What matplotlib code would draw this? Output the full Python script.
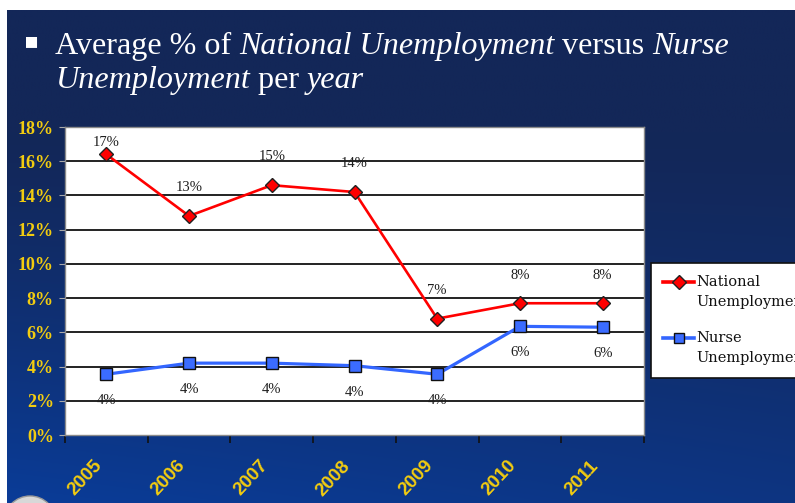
import numpy as np
import matplotlib
matplotlib.use("Agg")
import matplotlib.pyplot as plt
from matplotlib.lines import Line2D
from matplotlib.legend_handler import HandlerLine2D
from matplotlib.patches import Circle
import matplotlib.transforms as mtransforms

# ---------------- data ----------------
years = ["2005", "2006", "2007", "2008", "2009", "2010", "2011"]
national = [16.4, 12.8, 14.6, 14.2, 6.8, 7.7, 7.7]
nurse = [3.55, 4.2, 4.2, 4.05, 3.55, 6.35, 6.3]
national_labels = ["17%", "13%", "15%", "14%", "7%", "8%", "8%"]
nurse_labels = ["4%", "4%", "4%", "4%", "4%", "6%", "6%"]
yticks = [0, 2, 4, 6, 8, 10, 12, 14, 16, 18]
ytick_labels = [f"{v}%" for v in yticks]
series_names = ["National\nUnemployment", "Nurse\nUnemployment"]

W, H = 795, 503
fig = plt.figure(figsize=(W / 100, H / 100), dpi=100, facecolor="white")

# ---------------- background ----------------
bg = fig.add_axes([0, 0, 1, 1])
bg.set_xlim(0, W)
bg.set_ylim(H, 0)
bg.axis("off")
ny, nx = 200, 300
yy, xx = np.mgrid[0:1:ny * 1j, 0:1:nx * 1j]
top = np.array([19, 39, 88]) / 255
bot = np.array([10, 60, 152]) / 255
f = np.clip((yy - 0.25) / 0.75, 0, 1) ** 1.2
f = f * (1 - 0.35 * xx)
img = top[None, None, :] * (1 - f[..., None]) + bot[None, None, :] * f[..., None]
bg.imshow(img, extent=(7, W, H, 10), aspect="auto", zorder=0, interpolation="bilinear")
bg.add_patch(Circle((30, 522), 26, facecolor="#d8d8d8", edgecolor="#999999", lw=1, zorder=1))

# ---------------- title ----------------
fig.text(24 / W, 1 - 41 / H, "\u25aa", color="white", fontsize=16,
         family="DejaVu Sans", va="center", ha="left")
lines = [
    [("Average % of ", "normal"), ("National Unemployment", "italic"),
     (" versus ", "normal"), ("Nurse", "italic")],
    [("Unemployment", "italic"), (" per ", "normal"), ("year", "italic")],
]
renderer = fig.canvas.get_renderer()


def measure(size):
    t = 0
    for s, st in lines[0]:
        tx = fig.text(0, 0, s, fontsize=size, family="Liberation Serif", style=st)
        t += tx.get_window_extent(renderer).width
        tx.remove()
    return t


size = 24
size = size * 675 / measure(size)
baselines = [54, 88]
for line, base in zip(lines, baselines):
    x = 55
    for s, st in line:
        tx = fig.text(x / W, 1 - base / H, s, fontsize=size, family="Liberation Serif",
                      style=st, color="white", va="baseline", ha="left")
        x += tx.get_window_extent(renderer).width

# ---------------- chart ----------------
L, R, T, B = 65, 644, 127, 435
ax = fig.add_axes([L / W, 1 - B / H, (R - L) / W, (B - T) / H])
ax.set_facecolor("white")
xs = np.arange(len(years))
ax.set_xlim(-0.5, len(years) - 0.5)
ax.set_ylim(0, 18)

for v in yticks[1:-1]:
    ax.axhline(v, color="#111111", lw=1.3, zorder=1)

ax.plot(xs, national, color="#ff0000", lw=1.9, marker="D", markersize=7.5,
        markerfacecolor="#ff0000", markeredgecolor="#202020", markeredgewidth=1.0, zorder=3)
ax.plot(xs, nurse, color="#3366ff", lw=2.3, marker="s", markersize=8.5,
        markerfacecolor="#3b6cff", markeredgecolor="#101010", markeredgewidth=1.0, zorder=3)

lab_kw = dict(family="Liberation Serif", fontsize=10.5, color="#1e1e1e",
              ha="center", va="center", zorder=4)
for x, v, s in zip(xs, national, national_labels):
    ax.text(x, min(v + 1.65, 17.1), s, **lab_kw)
for x, v, s in zip(xs, nurse, nurse_labels):
    ax.text(x, v - 1.55, s, **lab_kw)

for sp in ax.spines.values():
    sp.set_color("#8a8a8a")
    sp.set_linewidth(1.0)

ax.set_yticks(yticks)
ax.set_yticklabels(ytick_labels)
ax.tick_params(axis="y", length=4, color="#aaaaaa", pad=4)
for t in ax.get_yticklabels():
    t.set_family("Liberation Serif")
    t.set_fontweight("bold")
    t.set_fontsize(13)
    t.set_color("#f2cc10")

ax.set_xticks(np.arange(-0.5, len(years)), minor=False)
ax.set_xticklabels([])
ax.tick_params(axis="x", which="major", length=6, width=1.2, color="#111111")
ax.set_xticks(xs, minor=True)
ax.set_xticklabels(years, minor=True)
ax.tick_params(axis="x", which="minor", length=0, pad=16)
shift = mtransforms.ScaledTranslation(-13 / 100, 0, fig.dpi_scale_trans)
for t in ax.get_xticklabels(minor=True):
    t.set_rotation(47)
    t.set_ha("right")
    t.set_va("top")
    t.set_rotation_mode("anchor")
    t.set_family("Liberation Sans")
    t.set_fontweight("bold")
    t.set_fontsize(13.5)
    t.set_color("#f2cc10")
    t.set_transform(t.get_transform() + shift)

# ---------------- legend ----------------
LEG_LINESPACING = 1.55


class UpHandler(HandlerLine2D):
    def create_artists(self, legend, orig_handle, xdescent, ydescent, width,
                       height, fontsize, trans):
        arts = super().create_artists(legend, orig_handle, xdescent, ydescent,
                                      width, height, fontsize, trans)
        for a in arts:
            a.set_ydata(np.asarray(a.get_ydata(), float) + 0.72 * fontsize)
        return arts


h1 = Line2D([], [], color="#ff0000", lw=2.6, marker="D", markersize=7,
            markerfacecolor="#ff0000", markeredgecolor="#202020")
h2 = Line2D([], [], color="#3366ff", lw=2.6, marker="s", markersize=7.5,
            markerfacecolor="#3b6cff", markeredgecolor="#101010")
leg = fig.legend([h1, h2], series_names, loc="upper left",
                 bbox_to_anchor=(651 / W, 1 - 263 / H), bbox_transform=fig.transFigure,
                 prop={"family": "DejaVu Serif", "size": 10.5},
                 frameon=True, fancybox=False, framealpha=1, edgecolor="#111111",
                 handlelength=2.1, handletextpad=0.15, labelspacing=1.5,
                 borderpad=0.85, borderaxespad=0, numpoints=1,
                 handler_map={Line2D: UpHandler(numpoints=1)})
leg.get_frame().set_linewidth(1.2)
for t in leg.get_texts():
    t.set_color("#111111")
    t.set_linespacing(LEG_LINESPACING)

fig.savefig("out.png", dpi=100, facecolor="white")
